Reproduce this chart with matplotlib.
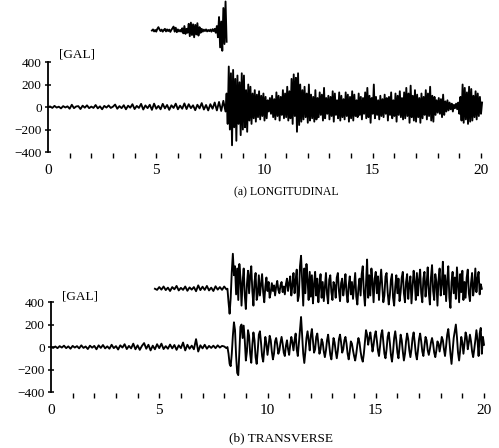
import numpy as np
import matplotlib.pyplot as plt

plt.rcParams['font.family'] = ['Liberation Serif', 'DejaVu Serif']

# ---- (a) longitudinal, main record (gal) ----
long_t0, long_dt = 0.0, 0.1
long_quiet = [0, 5, -8, 10, -5, 3, -12, 8, -4, 6, -15, 20, -10, 5, 8, -18, 12, -6, 15, -10,
              4, -8, 18, -12, 6, -20, 10, -5, 14, -8, 3, 22, -15, 8, -10, 16, -20, 12, -6, 25,
              -18, 10, -8, 28, -22, 14, -10, 20, -25, 30, -15, 10, -20, 28, -12, 18, -25, 15, -8, 30,
              -20, 12, -15, 32, -18, 25, -10, 15, -28, 20, -12, 35, -22, 18, -30, 25, -15, 40, -30, 45,
              -35, 55, -40]
long_s0, long_sdt = 8.25, 0.05
long_strong = [120, -150, 360, -200, 300, -340, 330, -180, 250, -300, 280, -150, 220, -250, 300,
               -200, 280, -180, 150, -220, 200, -120, 180, -150, 120,
               -100, 150, -130, 110, -90, 140, -110, 100, -80, 120,
               -120, 90, -100, 60, -40, 80, -60, 100, -90, 70,
               -110, 130, -80, 100, -120, 90, -70, 150, -100, 120,
               -90, 180, -120, 140, -100, 250, -150, 290, -80, 260,
               -220, 300, -160, 200, -130, 150, -110, 180, -90, 120,
               -140, 200, -120, 110, -100, 90, -130, 150, -110, 80,
               -90, 130, -70, 110, -120, 170, -100, 80, -60, 100,
               -110, 90, -80, 140, -130, 120, -70, 60, -100, 130,
               -120, 100, -90, 70, -110, 130, -80, 110, -130, 90,
               -100, 140, -120, 110, -80, 60, -90, 120, -70, 90,
               -110, 80, -60, 130, -100, 170, -90, 100, -140, 80,
               -60, 200, -100, 90, -70, 60, -110, 100, -80, 70,
               -90, 110, -60, 80, -120, 90, -70, 130, -100, 60,
               -80, 120, -130, 100, -70, 140, -90, 80, -110, 130,
               -100, 170, -80, 120, -140, 190, -90, 100, -120, 150,
               -130, 110, -90, 80, -140, 120, -100, 90, -70, 150,
               -110, 120, -80, 180, -120, 100, -130, 90, -70, 60,
               -50, 80, -60, 70, -90, 110, -70, 50, -40, 60,
               -30, 40, -20, 30, -40, 20, -10, 30, -20, 40,
               -60, 90, -120, 200, -140, 170, -110, 130, -150, 180,
               -130, 160, -120, 100, -90, 140, -110, 120, -80, 90, -60, 40]

# ---- (a) upper short record, drawn with an offset ----
lup_t0, lup_dt, lup_offset = 4.8, 0.05, 680
long_upper = [0, 10, -8, 5, -10, 15, 30, 10, -5, 8,
              -10, 5, 15, -8, 10, -5, 8, -12, 6, 20,
              35, -10, 25, -15, 10, -8, 5, -10, 20, -25,
              40, -30, 15, -20, 60, -50, 70, -40, 55, -60,
              50, -35, 65, -45, 30, -20, 15, -10, 8, -5,
              10, -8, 5, -6, 8, -10, 12, -5, 15, -20,
              40, -60, 120, -150, 80, -180, 200, -120, 258, -100]

# ---- (b) transverse, lower record ----
tr_t0, tr_dt = 0.0, 0.1
trans_quiet = [0, -8, 5, -10, 8, -5, 12, -10, 6, -15, 10, -5, 8, -12, 15, -8, 5, -18, 12, -6,
               10, -20, 15, -8, 18, -12, 6, -15, 20, -10, 8, -22, 15, -5, 25, -18, 10, -12, 30, -20,
               15, -25, 10, 35, -15, 20, -30, 12, -20, 25, -10, 30, -18, 8, -15, 22, -12, 18, -25, 15,
               -10, 40, -30, 20, -15, 12, -20, 70, -40, 15, -12, 20, -15, 10, -8, 12, -10, 15, -5, 10,
               5, -10]
tr_s0, tr_sdt = 8.15, 0.05
trans_strong = [0, -60, -150, -170, -60, 100, 220, 150, -80, -230,
                -250, -50, 180, 200, 80, 190, 60, -120, -40, 150,
                100, -60, -140, 20, 130, 60, -90, -150, -30, 110,
                140, 40, -80, -130, -20, 90, 30, -70, 10, 100,
                60, -40, -110, -60, 50, 80, 20, -60, -30, 40,
                90, 30, -50, -80, 10, 60, -20, -70, 20, 90,
                40, -30, 60, 120, -20, -80, 30, 150, 267, 100,
                -60, -142, -40, 80, 140, 60, -30, 100, 160, 50,
                -50, -20, 90, 120, 30, -60, -20, 70, 40, -40,
                -90, -30, 60, 110, 20, -70, -110, -20, 80, 40,
                -40, -100, -30, 70, 110, 40, -50, -20, 60, 90,
                30, -60, -110, -40, 50, 30, -30, -80, -120, -60,
                20, 80, 40, -40, -100, -130, -60, 40, 150, 110,
                20, 80, 130, 50, -40, 20, 100, 140, 60, -30,
                -80, 10, 110, 150, 40, -60, -100, -20, 90, 130,
                40, -70, -130, -40, 80, 140, 60, -50, -100, 0,
                110, 60, -40, -120, -60, 50, 120, 70, -30, -90,
                -20, 80, 130, 40, -60, -110, -30, 70, 120, 50,
                -40, -80, 10, 90, 60, -30, -70, -20, 40, 80,
                30, -50, -90, -30, 50, 30, -40, 20, 90, 60,
                -20, -80, 10, 110, 160, 60, -60, -150, -40, 80,
                140, 200, 90, -50, -120, -30, 90, 40, -60, 30,
                130, 90, -20, 40, 110, 50, -40, -90, -20, 60,
                150, 60, -80, 120, 170, -60, 90, 20]

# ---- (b) transverse, upper record with offset ----
tup_t0, tup_dt, tup_offset = 4.8, 0.1, 518
trans_up_quiet = [0, -10, 15, -8, 20, -12, 10, -20, 15, -5, 25, -15, 8, -10, 20, -18, 12,
                  -8, 15, -22, 30, -12, 18, -10, 25, -15, 10, -20, 22, -8, 15, -10, 20, -5]
tup_s0, tup_sdt = 8.15, 0.05
trans_up_strong = [0, -120, -222, -80, 150, 311, 120, 200, -50, 180,
                   -100, 220, 100, -150, 60, 180, -60, -180, 40, 160,
                   -40, 120, 200, -20, -150, 60, 140, -100, -50, 120,
                   -60, 40, 130, -30, -120, 20, 100, -20, 60, -80,
                   -30, 50, -20, 30, -60, 20, 70, -10, -40, 30,
                   60, -30, 20, -50, 40, 90, -20, 50, 110, -60,
                   30, 140, -40, 80, 170, -110, -60, 200, 293, 60,
                   -150, 180, -40, 220, 80, -100, 150, -70, 120, -130,
                   40, 150, -60, 90, -120, 30, 130, -80, 60, -110,
                   20, 140, -50, -130, 80, 120, -30, -100, 60, 30,
                   -80, 100, 140, -20, -110, 50, 90, -60, 20, 130,
                   -40, -120, 30, 110, -50, 60, -90, 20, 140, -70,
                   -140, 10, 90, -60, 130, 200, -30, -150, 40, 260,
                   -80, 120, -60, 180, 60, -120, 90, 150, -40, 110,
                   -100, 50, 170, 30, -120, -60, 110, 140, -30, -140,
                   -60, 80, 130, -80, -150, 20, 120, -40, 90, -110,
                   -30, 100, 150, -40, -120, 60, 130, -90, 40, 110,
                   -130, 20, 160, 60, -100, 140, -60, 80, 170, -40,
                   -120, 90, 150, -70, 40, 190, -30, -140, 100, 210,
                   -20, -100, 130, 60, -150, 80, 180, -60, 40, 240,
                   -50, 120, -110, 70, 200, -80, -170, 60, 150, -40,
                   100, -90, 190, 40, -120, 130, -30, 160, -100, 60,
                   -80, 100, 170, -40, -110, 50, 140, -60, 20, 180,
                   -30, 90, 150, -50, 40, 0]

yticks = [-400, -200, 0, 200, 400]
ytick_labels = ['\u2212400', '\u2212200', '0', '200', '400']
xtick_labels = ['0' if i == 0 else (str(i) if i % 5 == 0 else '') for i in range(21)]


def series(t0, dt, vals, offset=0):
    v = np.asarray(vals, dtype=float) + offset
    return t0 + dt * np.arange(len(v)), v


def join(a, b):
    return np.concatenate([a[0], b[0]]), np.concatenate([a[1], b[1]])


def style_axes(ax, ylim):
    ax.set_xlim(0, 20)
    ax.set_ylim(*ylim)
    for s in ['top', 'right', 'bottom']:
        ax.spines[s].set_visible(False)
    ax.spines['bottom'].set_position(('data', -455))
    ax.spines['left'].set_bounds(-400, 400)
    ax.spines['left'].set_linewidth(1.3)
    ax.set_yticks(yticks)
    ax.set_yticklabels(ytick_labels, fontsize=9.5)
    ax.tick_params(axis='y', direction='inout', length=5, width=1.1, pad=2)
    ax.set_xticks(range(21))
    ax.set_xticklabels(xtick_labels, fontsize=11)
    ax.tick_params(axis='x', direction='in', length=3.5, width=1.0, pad=4)
    ax.xaxis.get_major_ticks()[0].tick1line.set_visible(False)
    ax.patch.set_visible(False)


fig = plt.figure(figsize=(4.99, 4.48), dpi=100)
W, H = 499, 448
ax_a = fig.add_axes([48 / W, 1 - 159.9 / H, 433 / W, 159.75 / H])
ax_b = fig.add_axes([51 / W, 1 - 399.9 / H, 433 / W, 148.5 / H])

lc = 'black'
lw = 1.35
t, v = join(series(long_t0, long_dt, long_quiet), series(long_s0, long_sdt, long_strong))
ax_a.plot(t, v, color=lc, lw=lw, clip_on=False)
t, v = series(lup_t0, lup_dt, long_upper, lup_offset)
ax_a.plot(t, v, color=lc, lw=lw, clip_on=False)
style_axes(ax_a, (-470, 950))
ax_a.text(0.5, 470, '[GAL]', fontsize=9.5, ha='left', va='center')

t, v = join(series(tr_t0, tr_dt, trans_quiet), series(tr_s0, tr_sdt, trans_strong))
ax_b.plot(t, v, color=lc, lw=lw, clip_on=False)
t, v = join(series(tup_t0, tup_dt, trans_up_quiet, tup_offset),
            series(tup_s0, tup_sdt, trans_up_strong, tup_offset))
ax_b.plot(t, v, color=lc, lw=lw, clip_on=False)
style_axes(ax_b, (-470, 850))
ax_b.text(0.5, 450, '[GAL]', fontsize=9.5, ha='left', va='center')

fig.text(286 / W, 1 - 192 / H, '(a) LONGITUDINAL', fontsize=8.5, ha='center', va='center')
fig.text(281 / W, 1 - 438 / H, '(b) TRANSVERSE', fontsize=9.5, ha='center', va='center')

fig.savefig('out.png', dpi=100)
